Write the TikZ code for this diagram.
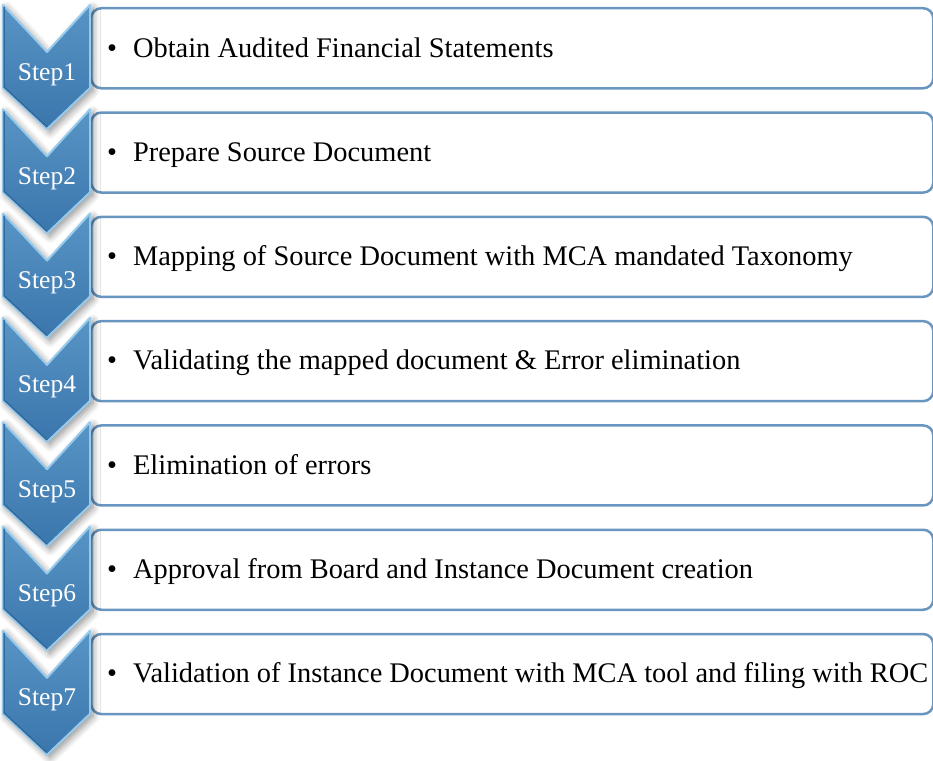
\documentclass[tikz,border=0pt]{standalone}
\usepackage{fontspec}
\setmainfont{Liberation Serif}
\usetikzlibrary{shadows.blur}
\definecolor{chevtop}{RGB}{88,148,196}
\definecolor{chevbottom}{RGB}{58,118,172}
\definecolor{chevlight}{RGB}{150,202,236}
\definecolor{chevedge}{RGB}{52,105,155}
\definecolor{boxline}{RGB}{104,150,192}
\tikzset{
	% Chevron markers on the left, outlined boxes on the right
	step chevron/.style={top color=chevtop,bottom color=chevbottom,draw=chevlight,line width=2pt,
		line join=round,
		blur shadow={shadow xshift=3pt,shadow yshift=-3pt,shadow blur radius=7pt,
			shadow blur steps=8,shadow opacity=45}},
	chevron rim/.style={draw=chevedge,line width=1.5pt,line join=round},
	step label/.style={text=white,anchor=base,inner sep=0pt,font=\fontsize{25.5}{27}\selectfont},
	step box/.style={draw=boxline,line width=2.5pt,fill=white,rounded corners=10pt,
		anchor=north west,minimum width=842pt,minimum height=80pt},
	box text/.style={anchor=base west,inner sep=0pt,font=\fontsize{28.4}{30}\selectfont}
}
\begin{document}
\begin{tikzpicture}[x=1pt,y=-1pt]
	\useasboundingbox (0,0) rectangle (933,760);
	\clip (0,0) rectangle (933,760);
	% macro for one step: number, then the text of its box
	\newcommand{\stepitem}[2]{
		\pgfmathsetmacro\steptop{5+104.3*(#1-1)}
		\node(box#1)[step box]at(90,{\steptop+2}){};
		\draw[step chevron] (3,\steptop) -- (47,{\steptop+47}) -- (90,\steptop)
			-- (90,{\steptop+83}) -- (47,{\steptop+124}) -- (3,{\steptop+83}) -- cycle;
		% darker rim on the left side
		\draw[chevron rim] (4,{\steptop+2}) -- (4,{\steptop+82}) -- (47,{\steptop+122});
		\node(step#1)[step label]at(47,{\steptop+75}){Step#1};
		\node(item#1)[box text]at(107,{\steptop+52}){\textbullet\hspace{16pt}#2};
	}
	
	\stepitem{1}{Obtain Audited Financial Statements}
	\stepitem{2}{Prepare Source Document}
	\stepitem{3}{Mapping of Source Document with MCA mandated Taxonomy}
	\stepitem{4}{Validating the mapped document \& Error elimination}
	\stepitem{5}{Elimination of errors}
	\stepitem{6}{Approval from Board and Instance Document creation}
	\stepitem{7}{Validation of Instance Document with MCA tool and filing with ROC}
\end{tikzpicture}
\end{document}
